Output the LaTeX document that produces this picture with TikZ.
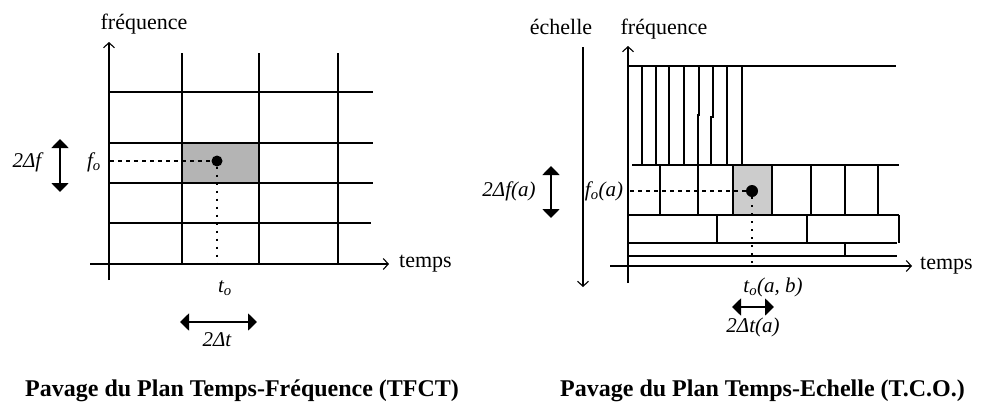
\documentclass[tikz,border=0pt]{standalone}
\usepackage{fontspec}
\setmainfont{Liberation Serif}
\usetikzlibrary{arrows.meta}
\tikzset{
  axis/.style={line width=1.1pt,-{Straight Barb[length=5pt,width=11pt]}},
  grid/.style={line width=1.4pt},
  thin grid/.style={line width=1.2pt},
  dblarrow/.style={line width=1.8pt,{Triangle[length=9pt,width=17pt]}-{Triangle[length=9pt,width=17pt]}},
  dashedh/.style={line width=1.1pt,dash pattern=on 4pt off 4pt},
  dottedv/.style={line width=1.1pt,dash pattern=on 2pt off 6pt},
  lbl/.style={inner sep=0pt,font=\fontsize{22}{26}\selectfont},
  ilbl/.style={inner sep=0pt,font=\fontsize{21}{25}\selectfont\itshape},
  caption/.style={inner sep=0pt,anchor=base west,font=\fontsize{24}{28}\selectfont\bfseries},
  dot/.style={circle,fill=black,inner sep=0pt,minimum size=11pt}
}
\begin{document}
\begin{tikzpicture}[x=1pt,y=-1pt]
\useasboundingbox (0,0) rectangle (1005,405);
\fill[white] (0,0) rectangle (1005,405);

% ---------------- left: TFCT ----------------
\fill[fill={rgb,255:red,180;green,180;blue,180}] (182,143) rectangle (259,183);
\foreach \x in {182,259,338} \draw[grid] (\x,53) -- (\x,264);
\foreach \y in {92,143,183} \draw[grid] (109,\y) -- (373,\y);
\draw[grid] (109,223) -- (371,223);
\draw[grid] (182,143) rectangle (259,183);

\coordinate (LyB) at (109,280);
\coordinate (LyT) at (109,42);
\coordinate (LxL) at (90,264);
\coordinate (LxR) at (389,264);
\draw[axis] (LyB) -- (LyT);
\draw[axis] (LxL) -- (LxR);

\node[dot] (Ldot) at (217,161) {};
\coordinate (Lfy) at (110,161);
\coordinate (Ltx) at (217,264);
\draw[dashedh] (Lfy) -- (Ldot);
\draw[dottedv] (Ldot) -- (Ltx);

\node[lbl] (Lfreq) at (144,24) {fréquence};
\node[lbl,anchor=west] (Ltemps) at (399,264) {temps};
\node[ilbl] (Lfo) at (94,162) {f\textsubscript{o}};
\node[ilbl] (Lto) at (225,288) {t\textsubscript{o}};
\node[ilbl] (Ldf) at (27,162) {2Δf};
\coordinate (LdfT) at (60,139);
\coordinate (LdfB) at (60,192);
\draw[dblarrow] (LdfT) -- (LdfB);
\coordinate (LdtL) at (180,322);
\coordinate (LdtR) at (257,322);
\draw[dblarrow] (LdtL) -- (LdtR);
\node[ilbl] (Ldt) at (217,340) {2Δt};

% ---------------- right: TCO ----------------
\fill[fill={rgb,255:red,204;green,204;blue,204}] (733,165) rectangle (772,215);
\draw[thin grid] (628,66) -- (896,66);
\foreach \x in {642,656,669,684,727,742} \draw[thin grid] (\x,66) -- (\x,165);
\draw[thin grid] (699,66) -- (699,115) -- (698,115) -- (698,165);
\draw[thin grid] (713,66) -- (713,117) -- (711,117) -- (711,165);
\draw[thin grid] (632,165) -- (899,165);
\foreach \x in {660,698,733,772,811,845,878} \draw[thin grid] (\x,165) -- (\x,215);
\draw[thin grid] (628,215) -- (899,215);
\foreach \x in {717,807,899} \draw[thin grid] (\x,215) -- (\x,243);
\draw[thin grid] (628,243) -- (897,243);
\draw[thin grid] (845,243) -- (845,256);
\draw[thin grid] (628,256) -- (897,256);

\coordinate (RyB) at (628,283);
\coordinate (RyT) at (628,46);
\coordinate (RxL) at (610,266);
\coordinate (RxR) at (912,266);
\draw[axis] (RyB) -- (RyT);
\draw[axis] (RxL) -- (RxR);
\coordinate (EchT) at (583,47);
\coordinate (EchB) at (583,287);
\draw[axis] (EchT) -- (EchB);

\node[dot,minimum size=12pt] (Rdot) at (752,191) {};
\coordinate (Rfy) at (630,191);
\coordinate (Rtx) at (752,266);
\draw[dashedh] (Rfy) -- (Rdot);
\draw[dottedv] (Rdot) -- (Rtx);

\node[lbl] (Rech) at (561,27) {échelle};
\node[lbl] (Rfreq) at (664,29) {fréquence};
\node[lbl,anchor=west] (Rtemps) at (920,266) {temps};
\node[ilbl] (Rfo) at (604,191) {f\textsubscript{o}(a)};
\node[ilbl] (Rdf) at (509,191) {2Δf(a)};
\coordinate (RdfT) at (551,166);
\coordinate (RdfB) at (551,218);
\draw[dblarrow] (RdfT) -- (RdfB);
\node[ilbl] (Rto) at (773,287) {t\textsubscript{o}(a, b)};
\coordinate (RdtL) at (732,307);
\coordinate (RdtR) at (774,307);
\draw[dblarrow] (RdtL) -- (RdtR);
\node[ilbl] (Rdt) at (753,327) {2Δt(a)};

% ---------------- captions ----------------
\node[caption] (CapL) at (25,396) {Pavage du Plan Temps-Fréquence (TFCT)};
\node[caption] (CapR) at (560,396) {Pavage du Plan Temps-Echelle (T.C.O.)};
\end{tikzpicture}
\end{document}
